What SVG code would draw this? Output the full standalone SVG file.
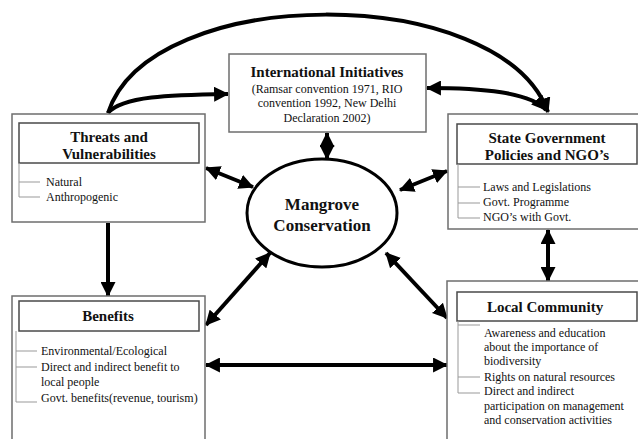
<svg xmlns="http://www.w3.org/2000/svg" width="638" height="439" viewBox="0 0 638 439" font-family="'Liberation Serif', 'Times New Roman', Times, 'DejaVu Serif', serif">
<defs>
<style>
text{font-family:"Liberation Serif","Times New Roman",Times,"DejaVu Serif",serif}
.outer{fill:#fff;stroke:#6e6e6e;stroke-width:1.5}
.inner{fill:#fff;stroke:#4a4a4a;stroke-width:1.5}
.tick{fill:none;stroke:#999;stroke-width:1}
.title{font-weight:bold;font-size:15px;fill:#111;text-anchor:middle}
.body{font-size:12px;fill:#111}
.bodyc{font-size:12px;fill:#111;text-anchor:middle}
.conn{fill:none;stroke:#000;stroke-width:4}
</style>
<marker id="ah" markerUnits="userSpaceOnUse" markerWidth="15" markerHeight="15" refX="13" refY="7" orient="auto-start-reverse" viewBox="0 0 14 14">
<path d="M0,0 L14,7 L0,14 z" fill="#000"/>
</marker>
</defs>
<rect width="638" height="439" fill="#fff"/>

<g id="connectors">
<path class="conn" d="M108,113 C150,-18 500,-18 548,112" marker-end="url(#ah)"/>
<path class="conn" d="M108,113 C122,96 170,95 228,94" marker-end="url(#ah)"/>
<path class="conn" d="M427,88 C482,88 530,92 546,110" marker-start="url(#ah)" marker-end="url(#ah)"/>
<line class="conn" x1="327" y1="133" x2="327" y2="159" marker-start="url(#ah)" marker-end="url(#ah)"/>
<line class="conn" x1="206" y1="168" x2="253" y2="187" marker-start="url(#ah)" marker-end="url(#ah)"/>
<line class="conn" x1="447" y1="171" x2="400" y2="190" marker-start="url(#ah)" marker-end="url(#ah)"/>
<line class="conn" x1="206" y1="325" x2="270" y2="253" marker-start="url(#ah)" marker-end="url(#ah)"/>
<line class="conn" x1="386" y1="253" x2="447" y2="318" marker-start="url(#ah)" marker-end="url(#ah)"/>
<line class="conn" x1="108" y1="223" x2="108" y2="296" marker-end="url(#ah)"/>
<line class="conn" x1="548" y1="230" x2="548" y2="281" marker-start="url(#ah)" marker-end="url(#ah)"/>
<line class="conn" x1="206" y1="365" x2="447" y2="365" marker-start="url(#ah)" marker-end="url(#ah)"/>
</g>

<g id="threats">
<rect class="outer" x="12" y="114" width="193" height="108"/>
<rect class="inner" x="19" y="123" width="180" height="40"/>
<text class="title" x="109" y="142">Threats and</text>
<text class="title" x="109" y="159">Vulnerabilities</text>
<path class="tick" d="M19,163 V197 M19,182 H40 M19,197 H40"/>
<text class="body" x="46" y="186">Natural</text>
<text class="body" x="46" y="201">Anthropogenic</text>
</g>

<g id="international">
<rect class="outer" x="229" y="54" width="197" height="78"/>
<text class="title" x="327" y="77">International Initiatives</text>
<text class="bodyc" x="327" y="93">(Ramsar convention 1971, RIO</text>
<text class="bodyc" x="327" y="107">convention 1992, New Delhi</text>
<text class="bodyc" x="327" y="122">Declaration 2002)</text>
</g>

<g id="state">
<rect class="outer" x="448" y="114" width="200" height="115"/>
<rect class="inner" x="457" y="124" width="180" height="40"/>
<text class="title" x="547" y="143">State Government</text>
<text class="title" x="547" y="160">Policies and NGO’s</text>
<path class="tick" d="M458,164 V218 M458,187 H480 M458,203 H480 M458,218 H480"/>
<text class="body" x="483" y="191">Laws and Legislations</text>
<text class="body" x="483" y="206">Govt. Programme</text>
<text class="body" x="483" y="221">NGO’s with Govt.</text>
</g>

<g id="mangrove">
<ellipse cx="322" cy="213" rx="75" ry="54" fill="#fff" stroke="#000" stroke-width="3"/>
<text class="title" style="font-size:17px" x="322" y="210">Mangrove</text>
<text class="title" style="font-size:17px" x="322" y="231">Conservation</text>
</g>

<g id="benefits">
<rect class="outer" x="12" y="296" width="193" height="150"/>
<rect class="inner" x="19" y="301" width="180" height="30"/>
<text class="title" x="108" y="321">Benefits</text>
<path class="tick" d="M16,331 V402 M16,351 H37 M16,367 H37 M16,402 H37"/>
<text class="body" x="41" y="355">Environmental/Ecological</text>
<text class="body" x="41" y="371">Direct and indirect benefit to</text>
<text class="body" x="41" y="386">local people</text>
<text class="body" x="41" y="402">Govt. benefits(revenue, tourism)</text>
</g>

<g id="local">
<rect class="outer" x="447" y="281" width="200" height="170"/>
<rect class="inner" x="457" y="292" width="180" height="29"/>
<text class="title" x="545" y="312">Local Community</text>
<path class="tick" d="M458,321 V393 M458,325 H480 M458,377 H480 M458,393 H480"/>
<text class="body" x="484" y="337">Awareness and education</text>
<text class="body" x="484" y="351">about the importance of</text>
<text class="body" x="484" y="365">biodiversity</text>
<text class="body" x="484" y="381">Rights on natural resources</text>
<text class="body" x="484" y="395">Direct and indirect</text>
<text class="body" x="484" y="410">participation on management</text>
<text class="body" x="484" y="424">and conservation activities</text>
</g>
</svg>
